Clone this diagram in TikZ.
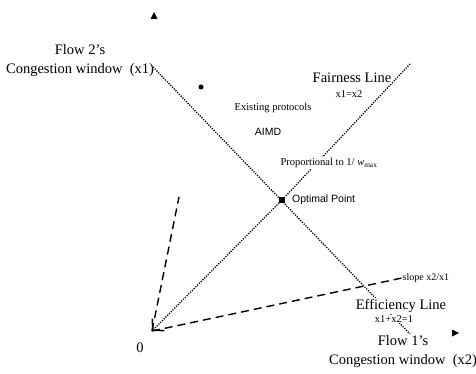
\documentclass[tikz,border=0pt]{standalone}
\usepackage{fontspec}
\setmainfont{Liberation Serif}
\setsansfont{Liberation Sans}
\usetikzlibrary{arrows.meta}
\begin{document}
\begin{tikzpicture}[x=1pt,y=-1pt,
    big/.style={font=\fontsize{14.5}{19}\selectfont, inner sep=1pt},
    small/.style={font=\fontsize{10.5}{11}\selectfont, inner sep=1pt},
    tiny/.style={font=\fontsize{10}{11}\selectfont, inner sep=0.5pt},
    sans/.style={font=\sffamily\fontsize{10.5}{11}\selectfont, inner sep=1pt},
    dots/.style={line width=1.3pt, dash pattern=on 1.2pt off 1.3pt},
    longdash/.style={line width=1.4pt, dash pattern=on 8pt off 5pt}] %window plane
  \useasboundingbox (0,0) rectangle (476,374);
  \coordinate (O) at (152,331);
  \coordinate (effA) at (153,67);
  \coordinate (effB) at (410,334);
  \coordinate (fairA) at (410,64);
  \coordinate (aimdEnd) at (179,197);
  \coordinate (slopeEnd) at (402,278);
  \node[fill, inner sep=0pt, minimum size=5.5pt] (opt) at (282,200) {};

  \draw[dots] (effA) -- (effB);
  \draw[dots] (fairA) -- (opt);
  \draw[dots, -{Straight Barb[length=8pt,width=17pt,line width=1.5pt]}] (opt) -- (O);
  \draw[longdash] (O) -- (aimdEnd);
  \draw[longdash] (O) -- (slopeEnd);

  \fill (154,12) -- (150.5,19) -- (157.5,19) -- cycle;
  \fill (459,333) -- (452,329.5) -- (452,336.5) -- cycle;
  \fill (201,87) circle (2.5pt);

  \node[big, align=center] (yaxis) at (80,61) {Flow 2's\\Congestion window\ \ (x1)};
  \node[big, fill=white] (fair) at (352,78) {Fairness Line};
  \node[small] (fairEq) at (349,94) {x1=x2};
  \node[small] (exist) at (273,108) {Existing protocols};
  \node[sans] (aimd) at (268,132) {AIMD};
  \node[small, fill=white] (prop) at (329,163) {Proportional to 1/ \textit{w}\textsubscript{max}};
  \node[sans, anchor=west, xshift=6pt] (optLab) at (opt.east) {Optimal Point};
  \node[tiny, anchor=west] (slope) at (slopeEnd) {slope x2/x1};
  \node[big, fill=white] (eff) at (401,306) {Efficiency Line};
  \node[small, fill=white] (effEq) at (394,319) {x1+x2=1};
  \node[big, align=center] (xaxis) at (403,352) {Flow 1's\\Congestion window\ \ (x2)};
  \node[big] (zero) at (140,348) {0};
\end{tikzpicture}
\end{document}
